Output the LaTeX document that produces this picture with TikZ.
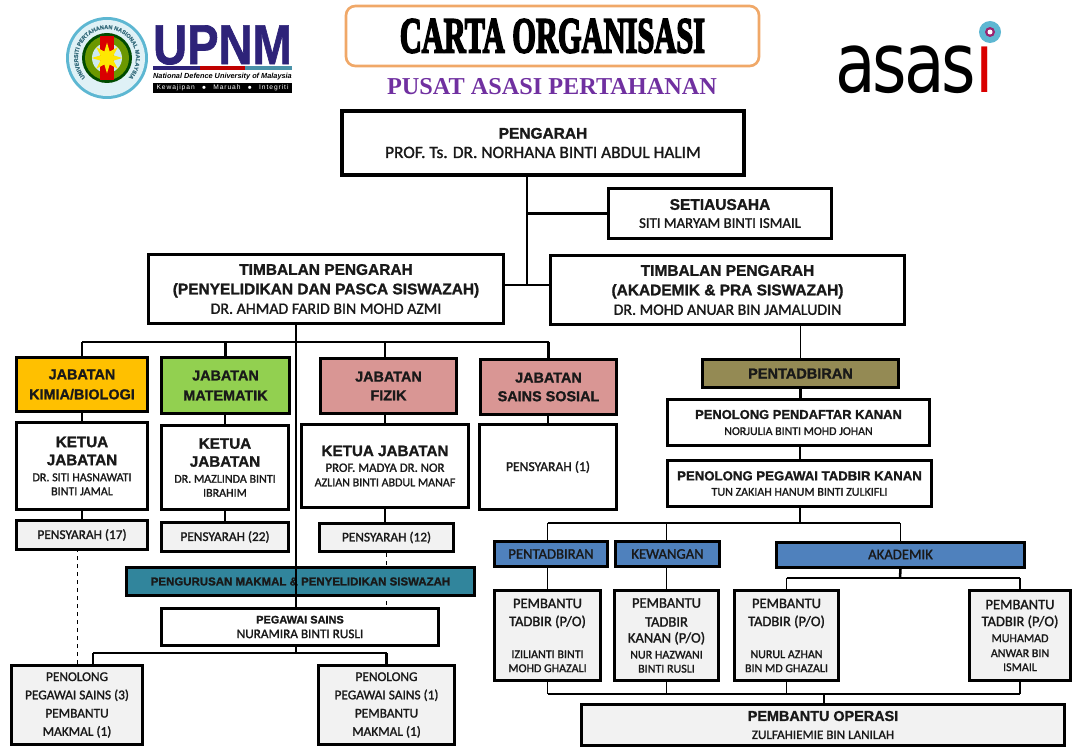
\documentclass[tikz,border=0pt]{standalone}
\usepackage{fontspec}
\setmainfont[BoldFeatures={FakeBold=1.3}]{Liberation Sans}
\newfontfamily\calfont[FakeBold=1.4]{Carlito}
\newfontfamily\serifhead[FakeBold=4]{Liberation Serif}
\newfontfamily\asasifont[LetterSpace=-5]{DejaVu Sans}
\newfontfamily\barfont[LetterSpace=14]{Liberation Sans}
\usetikzlibrary{backgrounds,decorations.text,shapes.geometric}

\definecolor{orgline}{HTML}{F0A868}
\definecolor{purplehead}{HTML}{7030A0}
\definecolor{navyupnm}{HTML}{2E2379}
\definecolor{jabkimia}{HTML}{FFC000}
\definecolor{jabmat}{HTML}{92D050}
\definecolor{jabpink}{HTML}{D99694}
\definecolor{jabolive}{HTML}{948A54}
\definecolor{jabteal}{HTML}{31859C}
\definecolor{jabblue}{HTML}{4F81BD}
\definecolor{lightbox}{HTML}{F2F2F2}
\definecolor{sealblue}{HTML}{5DB7D2}

\newcommand{\hd}[2][11.6]{{\fontsize{#1}{12}\selectfont\bfseries #2}}
\newcommand{\nm}[2][9]{{\calfont\fontsize{#1}{12}\selectfont #2}}

\tikzset{
    wh/.style 2 args={minimum width=#1*0.75pt, minimum height=#2*0.75pt},
    lines/.style={font=\fontsize{9}{#1}\selectfont},
    box/.style={draw, line width=2.25pt, fill=white, inner sep=0pt, align=center, text=black!90},
    bigbox/.style={box, line width=3pt},
    conn/.style={line width=1.9pt},
    thinconn/.style={line width=1.4pt},
}

\begin{document}
\begin{tikzpicture}[x=0.75pt, y=-0.75pt]
    \useasboundingbox (0, 0) rectangle (1081, 756);

    % heading
    \node (title) at (552.5, 36) [draw=orgline, line width=2pt, rounded corners=7pt, wh={413}{60}, inner sep=0pt]
        {\raisebox{-3pt}{\resizebox{229pt}{25pt}{\serifhead\bfseries CARTA ORGANISASI}}};
    \node (subtitle) at (552, 87) [text=purplehead, font=\fontsize{18.2}{22}\selectfont\bfseries, inner sep=0pt]
        {\fontspec{Liberation Serif}PUSAT ASASI PERTAHANAN};

    % upnm logo
    \fill[sealblue] (107, 58) circle (41);
    \fill[white!80!sealblue] (107, 58) circle (38);
    \fill[black!70!green] (107, 58) circle (25);
    \fill[jabkimia!60!green!70!black] (107, 58) circle (22);
    \fill[white!70!sealblue] (107, 58) circle (15);
    \fill[red!85!black] (100, 36) rectangle (114, 80);
    \node (star) at (107, 58) [star, fill=yellow!90!orange, star points=8, star point ratio=2.2, minimum size=23pt, inner sep=0pt] {};
    \path[decorate, decoration={text along path, text align=center, text color=sealblue!60!black,
        text={|\fontsize{4.2}{5}\selectfont\bfseries|UNIVERSITI PERTAHANAN NASIONAL MALAYSIA}}]
        (107, 58) ++(-235:29) arc[start angle=-235, end angle=55, radius=29];
    \node (upnm) at (222.5, 45) [text=navyupnm, inner sep=0pt]
        {\resizebox{104pt}{29pt}{\bfseries UPNM}};
    \fill[navyupnm] (153, 66) rectangle (200, 70);
    \fill[red!75!black] (200, 66) rectangle (245, 70);
    \fill[sealblue!80!black] (245, 66) rectangle (292, 70);
    \node (upnmline) at (222.5, 76.5) [inner sep=0pt]
        {\resizebox{104pt}{!}{\bfseries\itshape National Defence University of Malaysia}};
    \node (upnmbar) at (222.5, 88) [fill=black, text=white, minimum width=104pt, minimum height=7.5pt, inner sep=0pt, font=\fontsize{5}{6}\selectfont]
        {\makebox[99pt]{\barfont Kewajipan\hfill$\bullet$\hfill Maruah\hfill$\bullet$\hfill Integriti}};

    % asasi logo
    \node (asasi) at (915, 69.5) [inner sep=0pt]
        {\resizebox{119pt}{35pt}{\asasifont asas\textcolor{red!85!black}{ı}}};
    \fill[sealblue] (990, 32) circle (11);
    \fill[purplehead!70!red] (990, 32) circle (5);
    \fill[white] (990, 32) circle (2.5);

    % top of the chart
    \node (pengarah) at (543, 143) [bigbox, wh={402}{64}, lines=14.5]
        {\hd{PENGARAH} \\ \nm[13]{PROF. Ts. DR. NORHANA BINTI ABDUL HALIM}};
    \node (setia) at (720, 213.5) [box, wh={223}{50}, lines=13.5]
        {\hd{SETIAUSAHA} \\ \nm[11.1]{SITI MARYAM BINTI ISMAIL}};
    \node (tpa) at (326, 289) [box, wh={355}{69}, lines=14.6]
        {\hd{TIMBALAN PENGARAH} \\ \hd{(PENYELIDIKAN DAN PASCA SISWAZAH)} \\ \nm[11.9]{DR. AHMAD FARID BIN MOHD AZMI}};
    \node (tpb) at (727.5, 290) [box, wh={354}{69}, lines=14.6]
        {\hd{TIMBALAN PENGARAH} \\ \hd{(AKADEMIK \& PRA SISWAZAH)} \\ \nm[11.9]{DR. MOHD ANUAR BIN JAMALUDIN}};

    % left side
    \node (kimia) at (82, 384.5) [box, fill=jabkimia, wh={131}{54}, lines=15]
        {\hd[10.8]{JABATAN} \\ \hd[10.8]{KIMIA/BIOLOGI}};
    \node (matematik) at (225.5, 385.5) [box, fill=jabmat, wh={128}{56}, lines=15]
        {\hd[10.8]{JABATAN} \\ \hd[10.8]{MATEMATIK}};
    \node (fizik) at (388.5, 386) [box, fill=jabpink, wh={136}{55}, lines=14]
        {\hd[10.8]{JABATAN} \\ \hd[10.8]{FIZIK}};
    \node (sosial) at (548.5, 387) [box, fill=jabpink, wh={136}{55}, lines=14]
        {\hd[10.8]{JABATAN} \\ \hd[10.8]{SAINS SOSIAL}};

    \node (ketuaa) at (82, 466) [box, wh={131}{87}, lines=10.5]
        {\hd[11.4]{KETUA} \\[3pt] \hd[11.4]{JABATAN} \\[1.5pt] \nm{DR. SITI HASNAWATI} \\ \nm{BINTI JAMAL}};
    \node (ketuab) at (225, 467.5) [box, wh={127}{84}, lines=10.5]
        {\hd[11.4]{KETUA} \\[3pt] \hd[11.4]{JABATAN} \\[1.5pt] \nm{DR. MAZLINDA BINTI} \\ \nm{IBRAHIM}};
    \node (ketuac) at (385, 466) [box, wh={167}{83}, lines=10.8]
        {\hd[11.4]{KETUA JABATAN} \\[1pt] \nm[9.6]{PROF. MADYA DR. NOR} \\ \nm{AZLIAN BINTI ABDUL MANAF}};
    \node (ketuad) at (548, 467) [box, wh={137}{85}]
        {\nm[10.2]{PENSYARAH (1)}};

    \node (pensa) at (82, 535) [box, fill=lightbox, wh={131}{29}]
        {\nm[10]{PENSYARAH (17)}};
    \node (pensb) at (225, 537) [box, fill=lightbox, wh={127}{29}]
        {\nm[10]{PENSYARAH (22)}};
    \node (pensc) at (386.5, 537.5) [box, fill=lightbox, wh={134}{28}]
        {\nm[10]{PENSYARAH (12)}};

    \node (makmal) at (300.5, 581.5) [box, fill=jabteal, wh={348}{28}]
        {\hd[8.6]{PENGURUSAN MAKMAL \& PENYELIDIKAN SISWAZAH}};
    \node (sains) at (300, 627) [box, wh={277}{37}, lines=11]
        {\hd[8.2]{PEGAWAI SAINS} \\ \nm[9.9]{NURAMIRA BINTI RUSLI}};
    \node (labkiri) at (77, 705) [box, fill=lightbox, wh={131}{79}, lines=13.7]
        {\nm[10]{PENOLONG} \\ \nm[10]{PEGAWAI SAINS (3)} \\ \nm[10]{PEMBANTU} \\ \nm[10]{MAKMAL (1)}};
    \node (labkanan) at (386.5, 705) [box, fill=lightbox, wh={136}{79}, lines=13.7]
        {\nm[10]{PENOLONG} \\ \nm[10]{PEGAWAI SAINS (1)} \\ \nm[10]{PEMBANTU} \\ \nm[10]{MAKMAL (1)}};

    % right side
    \node (pentadbiran) at (800.5, 373.5) [box, fill=jabolive, wh={196}{28}]
        {\hd[10.9]{PENTADBIRAN}};
    \node (pendaftar) at (798.5, 422.5) [box, wh={262}{46}, lines=12]
        {\hd[9.7]{PENOLONG PENDAFTAR KANAN} \\ \nm[8.9]{NORJULIA BINTI MOHD JOHAN}};
    \node (tadbir) at (799.5, 483.5) [box, wh={264}{46}, lines=11.5]
        {\hd[9.9]{PENOLONG PEGAWAI TADBIR KANAN} \\ \nm[9]{TUN ZAKIAH HANUM BINTI ZULKIFLI}};

    \node (unita) at (551, 554) [box, fill=jabblue, wh={113}{25}]
        {\nm[11]{PENTADBIRAN}};
    \node (unitb) at (667.5, 554) [box, fill=jabblue, wh={104}{25}]
        {\nm[11]{KEWANGAN}};
    \node (unitc) at (900.5, 554.5) [box, fill=jabblue, wh={248}{25}]
        {\nm[11]{AKADEMIK}};

    \node (bantua) at (547.5, 635.5) [box, fill=lightbox, wh={106}{90}, lines=10.5]
        {\nm[10.9]{PEMBANTU} \\[3pt] \nm[10.9]{TADBIR (P/O)} \\[13.5pt] \nm[9]{IZILIANTI BINTI} \\ \nm[9]{MOHD GHAZALI}};
    \node (bantub) at (666.5, 635.5) [box, fill=lightbox, wh={104}{90}, lines=10.5]
        {\nm[10.9]{PEMBANTU} \\[3.7pt] \nm[10.9]{TADBIR} \\[1.5pt] \nm[10.9]{KANAN (P/O)} \\[1.5pt] \nm[9]{NUR HAZWANI} \\ \nm[9]{BINTI RUSLI}};
    \node (bantuc) at (786.5, 635.5) [box, fill=lightbox, wh={104}{90}, lines=10.5]
        {\nm[10.9]{PEMBANTU} \\[3pt] \nm[10.9]{TADBIR (P/O)} \\[13.5pt] \nm[9]{NURUL AZHAN} \\ \nm[9]{BIN MD GHAZALI}};
    \node (bantud) at (1020, 635.5) [box, fill=lightbox, wh={101}{90}, lines=10.5]
        {\nm[10.9]{PEMBANTU} \\[2.2pt] \nm[10.9]{TADBIR (P/O)} \\[1.5pt] \nm[9]{MUHAMAD} \\[.7pt] \nm[9]{ANWAR BIN} \\ \nm[9]{ISMAIL}};
    \node (operasi) at (823, 725) [box, fill=lightbox, wh={483}{41}, lines=13.5]
        {\hd[10.8]{PEMBANTU OPERASI} \\ \nm[9.8]{ZULFAHIEMIE BIN LANILAH}};

    % junctions
    \coordinate (trunk) at (527, 285);
    \coordinate (busleft) at (296, 342);
    \coordinate (buslab) at (93, 653);
    \coordinate (busunit) at (800, 523);
    \coordinate (busakad) at (900, 578);
    \coordinate (busbottom) at (824, 694);

    \begin{scope}[on background layer]
        \draw [dashed, line width=0.6pt] (labkiri.north) -- (labkiri.north |- pensa.south);
        \draw [dashed, line width=0.6pt] (pensc.south) -- (pensc.south |- sains.north);
    \end{scope}

    \draw [conn] (trunk |- pengarah.south) -- (trunk);
    \draw [conn] (setia.west) -- (trunk |- setia.west);
    \draw [conn] (tpa.east |- trunk) -- (tpb.west |- trunk);

    \draw [conn] (busleft |- tpa.south) -- (busleft |- sains.north);
    \draw [conn] (kimia.north |- busleft) -- (sosial.north |- busleft);
    \draw [conn] (kimia.north |- busleft) -- (kimia.north);
    \draw [conn] (matematik.north |- busleft) -- (matematik.north);
    \draw [conn] (ketuac.north |- busleft) -- (ketuac.north |- fizik.north);
    \draw [conn] (sosial.north |- busleft) -- (sosial.north);

    \draw [conn] (kimia.south) -- (ketuaa.north);
    \draw [conn] (ketuaa.south) -- (pensa.north);
    \draw [conn] (matematik.south -| ketuab.north) -- (ketuab.north);
    \draw [conn] (ketuab.south) -- (pensb.north);
    \draw [conn] (ketuac.north) -- (ketuac.north |- fizik.south);
    \draw [conn] (ketuac.south) -- (ketuac.south |- pensc.north);
    \draw [conn] (sosial.south -| ketuad.north) -- (ketuad.north);

    \draw [conn] (busleft |- sains.south) -- (busleft |- buslab);
    \draw [conn] (buslab) -- (labkanan.north |- buslab);
    \draw [conn] (buslab) -- (buslab |- labkiri.north);
    \draw [conn] (labkanan.north |- buslab) -- (labkanan.north);

    \draw [thinconn] (pentadbiran.north |- tpb.south) -- (pentadbiran.north);
    \draw [conn] (pentadbiran.south) -- (pentadbiran.south |- pendaftar.north);
    \draw [conn] (busunit |- pendaftar.south) -- (busunit |- tadbir.north);
    \draw [conn] (busunit |- tadbir.south) -- (busunit);

    \draw [thinconn] (bantua.north |- busunit) -- (busakad |- busunit);
    \draw [thinconn] (bantua.north |- busunit) -- (bantua.north |- unita.north);
    \draw [thinconn] (bantub.north |- busunit) -- (bantub.north |- unitb.north);
    \draw [thinconn] (unitc.north |- busunit) -- (unitc.north);

    \draw [thinconn] (bantua.north |- unita.south) -- (bantua.north);
    \draw [thinconn] (bantub.north |- unitb.south) -- (bantub.north);
    \draw [conn] (unitc.south) -- (busakad);
    \draw [thinconn] (bantuc.north |- busakad) -- (bantud.north |- busakad);
    \draw [thinconn] (bantuc.north |- busakad) -- (bantuc.north);
    \draw [thinconn] (bantud.north |- busakad) -- (bantud.north);

    \draw [thinconn] (bantua.south) -- (bantua.south |- busbottom);
    \draw [thinconn] (bantub.south) -- (bantub.south |- busbottom);
    \draw [thinconn] (bantuc.south) -- (bantuc.south |- busbottom);
    \draw [thinconn] (bantud.south) -- (bantud.south |- busbottom);
    \draw [thinconn] (bantua.south |- busbottom) -- (bantud.south |- busbottom);
    \draw [thinconn] (busbottom) -- (busbottom |- operasi.north);
\end{tikzpicture}
\end{document}
